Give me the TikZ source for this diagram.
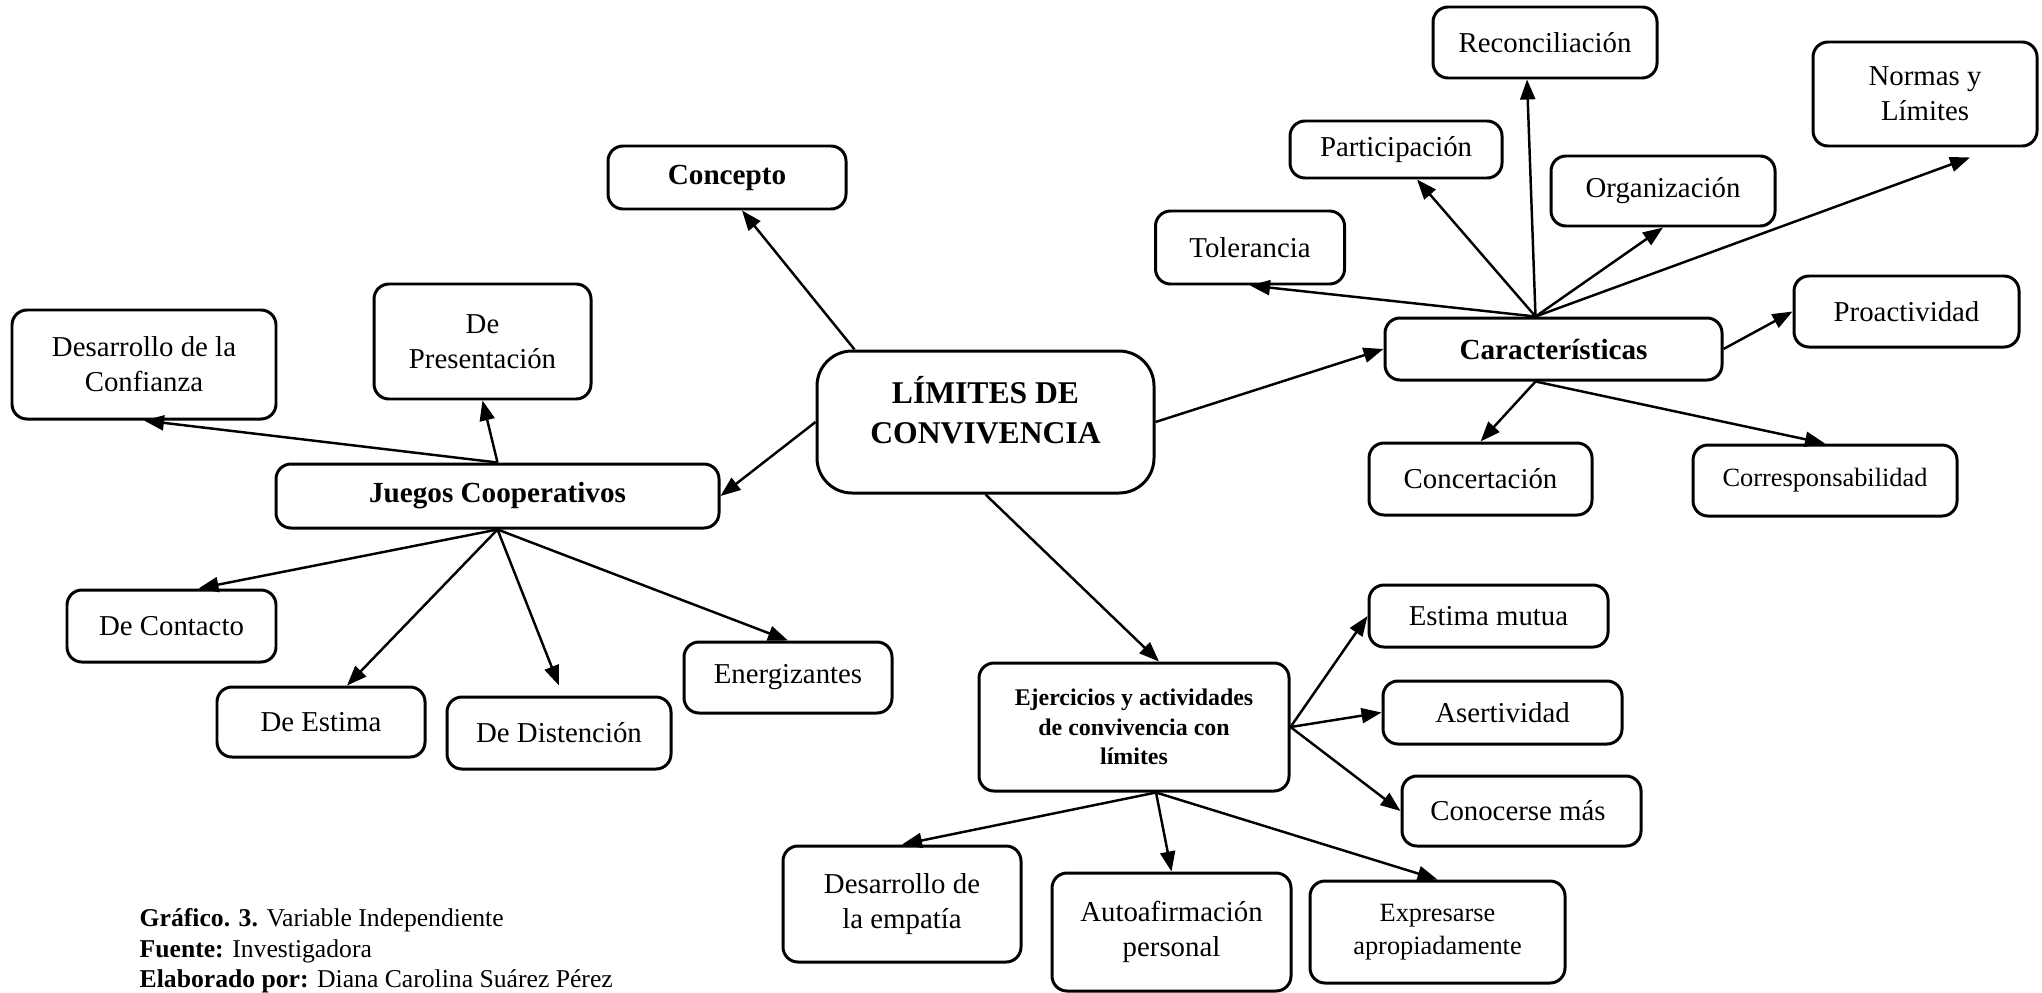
\documentclass[tikz,border=0pt]{standalone}
\usepackage{fontspec}
\setmainfont{Liberation Serif}
\usetikzlibrary{arrows.meta}
\usetikzlibrary{calc}

\begin{document}
\begin{tikzpicture}[
    box/.style={draw, line width=0.85pt, rounded corners=0.15cm, align=center, inner sep=0pt,
      font=\fontsize{8.2}{10}\selectfont},
    hub/.style={box, font=\fontsize{8.3}{10}\selectfont\bfseries},
    arr/.style={-{Triangle[length=0.2cm, width=0.15cm]}, line width=0.7pt}
  ]
  \useasboundingbox (0, 0) rectangle (20.42, 9.92);

  % centre and hubs
  \node[hub, rounded corners=0.35cm, minimum width=3.37cm, minimum height=1.42cm,
    font=\fontsize{9}{11.4}\selectfont\bfseries] (limites) at (9.855, 5.70) {LÍMITES DE\\CONVIVENCIA\\[-0.16cm]\mbox{}};
  \node[hub, minimum width=2.38cm, minimum height=0.63cm] (concepto) at (7.27, 8.145) {Concepto};
  \node[hub, minimum width=4.43cm, minimum height=0.64cm] (juegos) at (4.975, 4.96) {Juegos Cooperativos};
  \node[hub, minimum width=3.37cm, minimum height=0.62cm] (caract) at (15.535, 6.43) {Características};
  \node[hub, minimum width=3.10cm, minimum height=1.28cm, font=\fontsize{6.8}{8.4}\selectfont\bfseries]
    (ejercicios) at (11.34, 2.65) {Ejercicios y actividades\\de convivencia con\\límites};

  % one-line leaves
  \foreach \name/\x/\y/\w/\h/\txt in {
    contacto/1.715/3.66/2.09/0.72/{De Contacto},
    estima/3.21/2.70/2.08/0.70/{De Estima},
    distencion/5.59/2.59/2.24/0.72/{De Distención},
    energizantes/7.88/3.145/2.08/0.71/{Energizantes},
    tolerancia/12.50/7.445/1.89/0.73/{Tolerancia},
    participacion/13.96/8.425/2.12/0.57/{Participación},
    reconciliacion/15.45/9.495/2.24/0.71/{Reconciliación},
    organizacion/16.63/8.01/2.24/0.70/{Organización},
    proactividad/19.065/6.805/2.25/0.71/{Proactividad},
    concertacion/14.805/5.13/2.23/0.72/{Concertación},
    estimamutua/14.885/3.76/2.39/0.62/{Estima mutua},
    asertividad/15.025/2.795/2.39/0.63/{Asertividad},
    conocerse/15.215/1.81/2.39/0.70/{Conocerse más}
  }{
    \node[box, minimum width=\w cm, minimum height=\h cm] (\name) at (\x, \y) {\txt};
  }

  % two-line leaves
  \node[box, minimum width=2.64cm, minimum height=1.09cm] (confianza) at (1.44, 6.275) {Desarrollo de la\\Confianza};
  \node[box, minimum width=2.17cm, minimum height=1.15cm] (presentacion) at (4.825, 6.505) {De\\Presentación};
  \node[box, minimum width=2.24cm, minimum height=1.04cm] (normas) at (19.25, 8.98) {Normas y\\Límites};
  \node[box, minimum width=2.38cm, minimum height=1.16cm] (empatia) at (9.02, 0.88) {Desarrollo de\\la empatía};
  \node[box, minimum width=2.39cm, minimum height=1.18cm] (autoafirmacion) at (11.715, 0.60) {Autoafirmación\\personal};
  \node[box, minimum width=2.64cm, minimum height=0.71cm, font=\fontsize{7.5}{9.4}\selectfont]
    (corresp) at (18.25, 5.115) {Corresponsabilidad};
  \node[box, minimum width=2.55cm, minimum height=1.02cm, font=\fontsize{7.5}{9.4}\selectfont]
    (expresarse) at (14.375, 0.60) {Expresarse\\apropiadamente};

  % shifted ends
  \coordinate (limtop) at ([xshift=0.39cm]limites.north west);
  \coordinate (cartop) at ([xshift=-0.18cm]caract.north);
  \coordinate (carbot) at ([xshift=-0.18cm]caract.south);
  \coordinate (ejetop) at ([xshift=0.25cm]ejercicios.north);
  \coordinate (ejebot) at ([xshift=0.22cm]ejercicios.south);
  \coordinate (contop) at ([xshift=0.27cm]contacto.north);
  \coordinate (esttop) at ([xshift=0.26cm]estima.north);
  \coordinate (distop) at ([yshift=0.1cm]distencion.north);
  \coordinate (conbot) at ([xshift=0.15cm]concepto.south);
  \coordinate (parbot) at ([xshift=0.21cm]participacion.south);
  \coordinate (recbot) at ([xshift=-0.18cm]reconciliacion.south);
  \coordinate (norbot) at ([shift={(0.45,-0.1)}]normas.south);

  % arrows
  \foreach \from/\to in {
    limtop/conbot, limites.west/juegos.east, limites.east/caract.west, limites.south/ejetop,
    juegos.north/confianza.south, juegos.north/presentacion.south,
    juegos.south/contop, juegos.south/esttop, juegos.south/distop, juegos.south/energizantes.north,
    cartop/tolerancia.south, cartop/parbot, cartop/recbot, cartop/organizacion.south, cartop/norbot,
    caract.east/proactividad.west, carbot/concertacion.north, carbot/corresp.north,
    ejercicios.east/estimamutua.west, ejercicios.east/asertividad.west, ejercicios.east/conocerse.west,
    ejebot/empatia.north, ejebot/autoafirmacion.north, ejebot/expresarse.north}{
    \draw[arr] (\from) -- (\to);
  }

  % caption
  \node[anchor=north west, align=left, inner sep=0pt, font=\fontsize{7.3}{8.7}\selectfont]
    (caption) at (1.39, 0.84) {\textbf{Gráfico. 3.} Variable Independiente\\
    \textbf{Fuente:} Investigadora\\
    \textbf{Elaborado por:} Diana Carolina Suárez Pérez};
\end{tikzpicture}
\end{document}
